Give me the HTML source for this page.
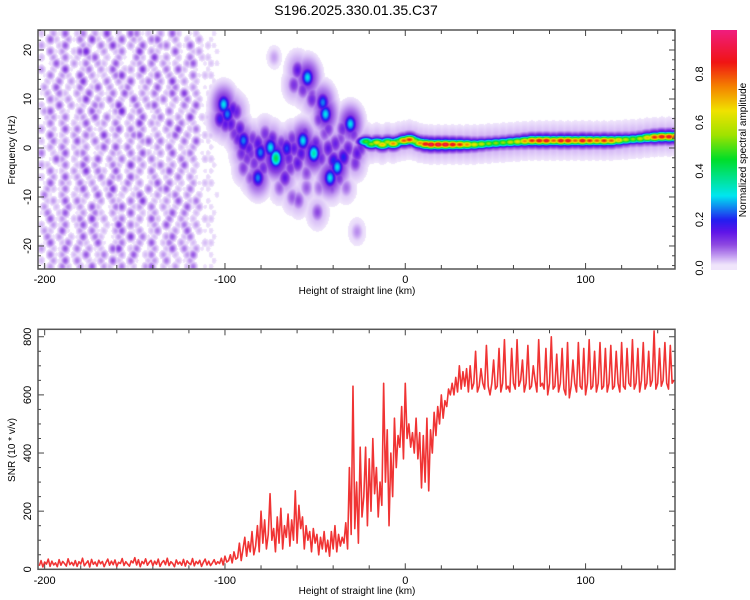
<!DOCTYPE html>
<html><head><meta charset="utf-8"><style>
html,body{margin:0;padding:0;background:#fff;}
#wrap{position:relative;width:750px;height:600px;overflow:hidden;font-family:"Liberation Sans",sans-serif;}
canvas{position:absolute;}
svg{position:absolute;left:0;top:0;}
</style></head><body>
<div id="wrap">
<canvas id="spec" width="637" height="239" style="left:38px;top:30px"></canvas>
<canvas id="cbar" width="26" height="240" style="left:711px;top:30px"></canvas>
<svg id="svg" width="750" height="600" xmlns="http://www.w3.org/2000/svg"></svg>
</div>
<script>
// ---------- data ----------
const snrStartKm = -203;
const snrStepKm = 1;
const snrValues = [
12,30,8,25,18,35,10,28,15,22, 9,33,14,27,20,11,36,16,24,13, 30,10,26,18,38,12,21,29,8,34,
17,25,11,31,19,27,9,23,35,14, 28,16,32,10,24,20,37,13,26,18, 11,29,22,40,15,33,9,27,19,36,
14,24,31,12,28,17,35,10,23,30, 16,38,13,26,20,9,32,18,25,14, 34,11,29,21,16,37,12,27,19,31,
10,24,35,15,28,13,22,33,17,26,
20,38,15,45,25,30,50,22,60,35,
40,90,30,70,110,45,95,60,130,50,
80,150,60,200,90,170,70,120,260,100,
140,60,180,90,210,70,150,110,190,80,
170,100,270,90,220,140,180,70,150,100,
130,60,140,90,120,50,110,70,130,60,
100,45,130,70,150,60,120,80,110,90,
160,70,350,120,630,140,300,90,420,180,
250,420,150,380,200,450,260,350,180,300,
220,640,300,480,150,400,250,520,350,460,
420,560,380,640,450,500,420,470,400,520,
380,470,280,460,300,520,270,480,400,540,
460,560,500,600,520,580,560,620,600,640,
600,660,610,700,620,680,630,690,610,700,
620,640,750,610,630,690,640,620,770,630,
600,640,720,620,630,760,610,640,790,620,
630,610,760,640,620,790,630,650,720,610,
640,770,620,630,700,650,610,790,630,640,
620,760,600,640,800,620,630,740,610,640,
760,620,600,780,590,630,720,640,610,780,
630,620,760,600,640,790,620,630,750,610,
640,780,620,630,760,610,640,770,620,630,
750,640,610,780,630,620,760,640,630,790,
620,640,760,610,650,780,620,640,750,630,
650,820,620,640,760,630,650,780,640,620,
770,640,650];

const noiseRows = [
"203150240316020541203052012012","052031406203150320450130203021","310250032041620305013402150132",
"041302570130240160320051023012","203041203502031042061302040230","015203140320510230403120350132",
"302061024031502306120405201021","140320503120460130250302041230","021403160204031502403061302012",
"305021402503024013050240130120","130420315021405203140250603021","042130260314020513024031402012",
"201503120430260140350120405120","350210405201370240130402130021","023140230504120305024013060230",
"140302150230402160320504120120","302051403120250413020316024012","051203042061302450130250301230",
"204130520403120303504120405120","130402130250514020130402130021","402150340120320405213050240120",
"015302041503140230410204130230","320140250301420603024130502012","041203160420502130402503120120",
"203051302140330520130204031021","150320413025014030250412031230","032140250302603120403502140120",
"410302130504120250130240302012","023150420130320406021305024021","302041305201450230403120513120",
"140250130420310502130250402012","051302406130240130520403120230","203140250302160420130502413021",
"320510304120350130240130502120","041302150420130604120350240012","150240320510240130502403120230",
"302150403120560240130250413120","041302150240130502403120350021","203150402130520410230402130012",
"130420315032041203502130240120"];

const blobKm = [-101,-99,-103,-97,-95,-92,-90,-90,-80.6,-72,-82,-75,-66,-57,-51,-67,-54.5,-60,-46,-44.5,-38,-42,-40,-34.5,-30.7,-27,-59.5,-49,-27,-73,-85,-88,-78,-70,-63,-60,-55,-48,-45,-36,-33,-94,-86,-64,-52,-31,
 -100,-96,-93,-91,-87,-84,-82,-79,-77,-74,-71,-69,-65,-62,-58,-56,-53,-50,-47,-43,-41,-39,-37,-35,-32,-29,-28,-25,-62,-57,-52,-48,-43,-41,-55,-63,-70,-86,-90];
const blobHz = [9,7,6,5,3,4,1,1.6,-0.8,-2,-6,0.2,0,1.6,-1,-6,14.5,16,9.4,7,-3.8,-6,-2.5,-1.8,5,-1,-10.6,-13,-17,18.6,2,-2,3,-3,2,-3,-5,-8,3,2,-8,7.5,-1,-4,11,3,
 5,8,2,-1,0,-3,1,-4,0,2,-1,1,-2,0,-1,3,0,1,-2,0,-4,1,-6,4,0,3,-3,0,13,12,10,6,4,-8,-8,-10,-8,-6,-4];
const blobAmp = [0.3,0.25,0.18,0.15,0.12,0.15,0.2,0.25,0.25,0.42,0.25,0.3,0.22,0.3,0.35,0.15,0.3,0.15,0.25,0.3,0.3,0.3,0.2,0.2,0.3,0.15,0.1,0.1,0.06,0.05,0.12,0.12,0.12,0.12,0.12,0.15,0.1,0.08,0.1,0.1,0.08,0.14,0.12,0.12,0.1,0.1,
 0.15,0.16,0.14,0.13,0.15,0.12,0.16,0.13,0.15,0.14,0.16,0.13,0.14,0.15,0.16,0.13,0.15,0.14,0.13,0.15,0.12,0.14,0.12,0.13,0.14,0.12,0.12,0.13,0.12,0.12,0.13,0.12,0.12,0.1,0.09,0.09,0.09,0.1,0.11];

const lineKm = [-22,-19,-16,-13,-10,-7,-4,-1,2,5,8,11,14,18,22,26,30,34,38,42,46,50,54,58,62,66,70,74,78,82,86,90,94,98,102,106,110,114,118,122,126,130,134,138,142,146,150];
const lineHz = [1.4,0.9,1.2,0.8,1.3,1.0,1.4,1.6,1.8,1.5,1.1,0.9,0.8,0.8,0.8,0.8,0.8,0.8,0.8,0.9,1.0,1.1,1.2,1.3,1.4,1.5,1.6,1.6,1.6,1.6,1.6,1.6,1.6,1.6,1.6,1.6,1.6,1.6,1.7,1.8,1.9,2.0,2.2,2.3,2.4,2.4,2.4];
const lineAmp = [0.5,0.55,0.65,0.7,0.6,0.75,0.55,0.8,0.85,0.6,0.75,0.9,0.95,0.95,0.95,0.9,0.85,0.75,0.65,0.6,0.55,0.55,0.55,0.6,0.65,0.75,0.85,0.9,0.9,0.8,0.9,0.9,0.8,0.9,0.85,0.8,0.85,0.8,0.7,0.6,0.55,0.6,0.7,0.85,0.9,0.9,0.9];

const xTicks = [-200,-100,0,100];
const freqTicks = [20,10,0,-10,-20];
const snrTicks = [0,200,400,600,800];
const cbarTicks = [0,0.2,0.4,0.6,0.8];

// ---------- axes ----------
const XMIN=-203.7, XMAX=149.6;
const TOP={x0:38,x1:675,y0:30,y1:269,fmin:-24.7,fmax:24.08};
const BOT={x0:38,x1:675,y0:329.3,y1:569.3,vmin:0,vmax:825.6};
const xs=k=>TOP.x0+(k-XMIN)/(XMAX-XMIN)*(TOP.x1-TOP.x0);
const yf=f=>TOP.y0+(TOP.fmax-f)/(TOP.fmax-TOP.fmin)*(TOP.y1-TOP.y0);
const ys=v=>BOT.y1-(v-BOT.vmin)/(BOT.vmax-BOT.vmin)*(BOT.y1-BOT.y0);

// ---------- colormap ----------
const stops=[[0,[255,255,255]],[0.012,[243,235,252]],[0.03,[222,200,248]],[0.06,[185,140,238]],[0.1,[140,70,225]],[0.15,[95,20,232]],[0.2,[35,30,240]],[0.3,[0,230,240]],[0.45,[0,222,40]],[0.55,[160,226,0]],[0.65,[240,226,0]],[0.75,[244,130,0]],[0.85,[240,20,20]],[1,[240,30,140]]];
function cmap(v){
  if(v<0.014) return [255,255,255];
  if(v>=1) return stops[stops.length-1][1];
  for(let i=1;i<stops.length;i++){ if(v<=stops[i][0]){const a=stops[i-1],b=stops[i];const t=(v-a[0])/(b[0]-a[0]);return [0,1,2].map(j=>Math.round(a[1][j]+(b[1][j]-a[1][j])*t));}}
  return [255,255,255];
}

// ---------- heatmap ----------
const W=637,H=239;
const field=new Float32Array(W*H);
function blob(km,hz,amp,sk,sh){
  const cx=xs(km)-TOP.x0, cy=yf(hz)-TOP.y0;
  const sx=sk*(W/(XMAX-XMIN)), sy=sh*(H/(TOP.fmax-TOP.fmin));
  const x0=Math.max(0,Math.floor(cx-3*sx)),x1=Math.min(W-1,Math.ceil(cx+3*sx));
  const y0=Math.max(0,Math.floor(cy-3*sy)),y1=Math.min(H-1,Math.ceil(cy+3*sy));
  for(let y=y0;y<=y1;y++)for(let x=x0;x<=x1;x++){
    const d=((x-cx)/sx)**2+((y-cy)/sy)**2;
    const v=amp*Math.exp(-0.5*d);
    const i=y*W+x; if(v>field[i]) field[i]=v;
  }
}
const cellKm=3.3, cellHz=1.22;
noiseRows.forEach((row,r)=>{
  const shift=(r%2)*0.5;
  for(let c=0;c<row.length;c++){
    const d=+row[c]; if(!d) continue;
    const fade=c>=28?0.6:1;
    blob(XMIN+(c+0.5+shift)*cellKm, TOP.fmax-(r+0.5)*cellHz, d*0.018*fade, 1.5, 0.65);
  }
});
for(let i=0;i<blobKm.length;i++){
  blob(blobKm[i],blobHz[i],blobAmp[i]*0.45,4.5,2.6);
  blob(blobKm[i],blobHz[i],blobAmp[i],2.3,1.3);
}
for(let i=0;i<lineKm.length;i++){
  blob(lineKm[i],lineHz[i],0.05,3.5,2.6);
  blob(lineKm[i],lineHz[i],lineAmp[i]*0.35,3.2,1.0);
  blob(lineKm[i],lineHz[i],lineAmp[i],3.0,0.6);
}
const sctx=document.getElementById('spec').getContext('2d');
const img=sctx.createImageData(W,H);
for(let i=0;i<W*H;i++){const c=cmap(field[i]);img.data[i*4]=c[0];img.data[i*4+1]=c[1];img.data[i*4+2]=c[2];img.data[i*4+3]=255;}
sctx.putImageData(img,0,0);

// colorbar
const cctx=document.getElementById('cbar').getContext('2d');
for(let y=0;y<240;y++){const v=(268-(30+y))/242.5;const c=cmap(Math.max(v,0.015));cctx.fillStyle=`rgb(${c[0]},${c[1]},${c[2]})`;cctx.fillRect(0,y,26,1);}

// ---------- svg ----------
const svg=document.getElementById('svg');
const NS='http://www.w3.org/2000/svg';
function el(tag,attrs,parent){const e=document.createElementNS(NS,tag);for(const k in attrs)e.setAttribute(k,attrs[k]);(parent||svg).appendChild(e);return e;}
function txt(s,x,y,size,rot,anchor){const t=el('text',{x:x,y:y,'font-size':size,'font-family':'Liberation Sans, sans-serif','text-anchor':anchor||'middle',fill:'#000'});if(rot)t.setAttribute('transform',`rotate(${rot} ${x} ${y})`);t.textContent=s;return t;}

const title=txt('S196.2025.330.01.35.C37',356,15,14);



function frame(P,name){
  const r=el('rect',{x:P.x0,y:P.y0,width:P.x1-P.x0,height:P.y1-P.y0,fill:'none',stroke:'#555','stroke-width':1.5});
  
  
}
frame(TOP,'spectrogram-frame');
for(let k=-200;k<=140;k+=20){const x=xs(k);const big=(k%100===0);
  el('line',{x1:x,x2:x,y1:TOP.y1,y2:TOP.y1-(big?6:4),stroke:'#444'});
  el('line',{x1:x,x2:x,y1:TOP.y0,y2:TOP.y0+(big?6:4),stroke:'#444'});
  el('line',{x1:x,x2:x,y1:BOT.y1,y2:BOT.y1-(big?6:4),stroke:'#444'});
  el('line',{x1:x,x2:x,y1:BOT.y0,y2:BOT.y0+(big?6:4),stroke:'#444'});
}
for(let f=-24;f<=24;f+=2){const y=yf(f);const big=(f%10===0);
  el('line',{x1:TOP.x0,x2:TOP.x0+(big?6:3),y1:y,y2:y,stroke:'#444'});
  el('line',{x1:TOP.x1,x2:TOP.x1-(big?6:3),y1:y,y2:y,stroke:'#444'});
}
for(let v=0;v<=800;v+=50){const y=ys(v);const big=(v%200===0);
  el('line',{x1:BOT.x0,x2:BOT.x0+(big?6:3),y1:y,y2:y,stroke:'#444'});
  el('line',{x1:BOT.x1,x2:BOT.x1-(big?6:3),y1:y,y2:y,stroke:'#444'});
}
xTicks.forEach(k=>{
  const a=txt(String(k),xs(k),283,11);
  
  
  const b=txt(String(k),xs(k),584,11);
  
  
});
freqTicks.forEach(f=>{
  const t=txt(String(f),31,yf(f),11,-90);
  
  
});
snrTicks.forEach(v=>{
  const t=txt(String(v),31,ys(v),11,-90);
  
  
});
const xt1=txt('Height of straight line (km)',357,294,10);


const xt2=txt('Height of straight line (km)',357,594,10);


const yt1=txt('Frequency (Hz)',15,150,10,-90);


const yt2=txt('SNR (10 * v/v)',15,450,10,-90);



cbarTicks.forEach(v=>{
  const y=268-v*242.5;
  const t=txt(v.toFixed(1),703,y,11,-90);
  
  
});
const ct=txt('Normalized spectral amplitude',746,150,10,-90);



frame(BOT,'snr-frame');
const clip=el('clipPath',{id:'bclip'});
el('rect',{x:BOT.x0,y:BOT.y0,width:BOT.x1-BOT.x0,height:BOT.y1-BOT.y0},clip);
let d='';
snrValues.forEach((v,i)=>{const k=snrStartKm+i*snrStepKm;d+=(i?'L':'M')+xs(k).toFixed(2)+' '+ys(v).toFixed(2);});
const line=el('path',{d:d,fill:'none',stroke:'#f03434','stroke-width':1.6,'clip-path':'url(#bclip)','stroke-linejoin':'round'});


</script>
</body></html>
